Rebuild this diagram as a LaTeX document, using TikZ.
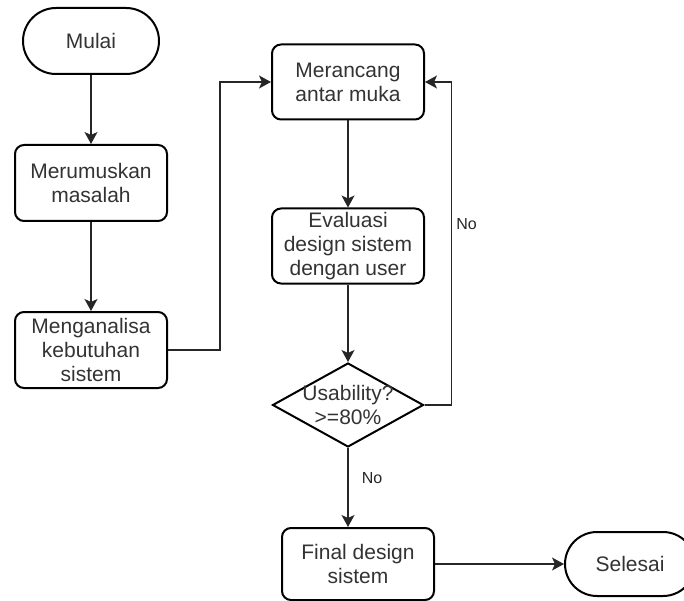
\documentclass[tikz,border=0pt]{standalone}
\usepackage{fontspec}
\setmainfont{Liberation Sans}
\usetikzlibrary{shapes,arrows.meta,positioning,calc}

\begin{document}
\begin{tikzpicture}[
    x=1pt, y=-1pt,
    font=\fontsize{21pt}{24pt}\selectfont,
    startstop/.style={
        rectangle,
        draw=black,
        line width=2pt,
        minimum width=136pt,
        minimum height=66pt,
        rounded corners=33pt,
        text=black!80
    },
    process/.style={
        rectangle,
        draw=black,
        line width=2pt,
        minimum width=152pt,
        minimum height=76pt,
        align=center,
        inner sep=2pt,
        rounded corners=9pt,
        text=black!80
    },
    decision/.style={
        diamond,
        draw=black,
        line width=2pt,
        minimum width=151pt,
        minimum height=84pt,
        inner sep=0pt
    },
    line/.style={draw=black!85, line width=1.2pt, -{Stealth[length=12pt,width=13pt,inset=3pt]}},
    answer/.style={font=\fontsize{16pt}{19pt}\selectfont, text=black!85}
]

% Frame
\useasboundingbox (0,0) rectangle (684,601);

% Left column
\node [startstop] (mulai) at (91,41) {Mulai};
\node [process] (rumus) at (91,183) {Merumuskan\\masalah};
\node [process] (analisa) at (91,350) {Menganalisa\\kebutuhan\\sistem};

% Middle column
\node [process, minimum height=75pt] (rancang) at (348,82) {Merancang\\antar muka};
\node [process, minimum height=75pt] (evaluasi) at (348,246) {Evaluasi\\design sistem\\dengan user};
\node [decision, label={[align=center, text=black!80]center:Usability?\\>=80\%}] (usab) at (348,405) {};
\node [process, minimum height=72pt] (final) at (358,564) {Final design\\sistem};

% End
\node [startstop, minimum width=130pt, minimum height=64pt, rounded corners=32pt, right=129pt of final] (selesai) {Selesai};

% Connections
\draw [line] (mulai) -- (rumus);
\draw [line] (rumus) -- (analisa);
\draw [line] (analisa.east) -- ++(52,0) |- (rancang.west);
\draw [line] (rancang) -- (evaluasi);
\draw [line] (evaluasi) -- (usab);
\draw [line] (usab.east) -- ++(27,0) |- node[answer, pos=0.28, right=1pt] {No} (rancang.east);
\draw [line] (usab.south) -- node[answer, pos=0.375, right=10pt] {No} (usab.south |- final.north);
\draw [line] (final) -- (selesai);

\end{tikzpicture}
\end{document}
